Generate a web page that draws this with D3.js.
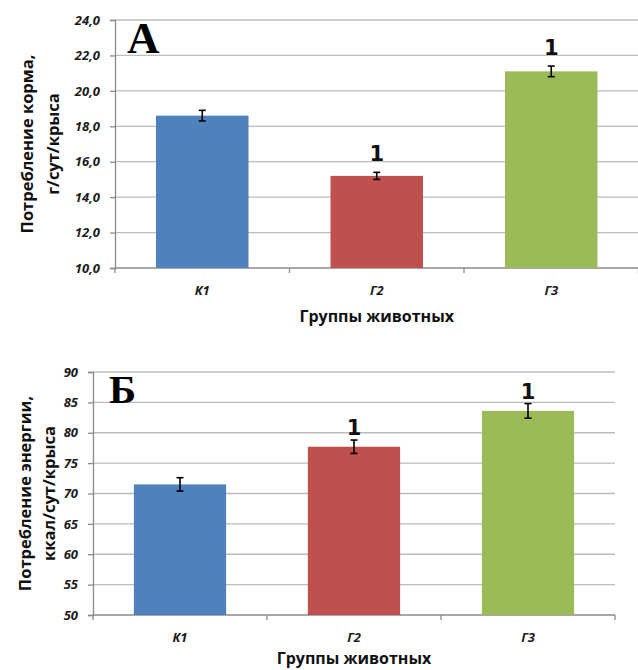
<!DOCTYPE html>
<html><head><meta charset="utf-8">
<script src="https://cdn.jsdelivr.net/npm/d3@7"></script>
<style>
html,body{margin:0;padding:0;background:#fff;}
svg{display:block;}
</style></head>
<body>
<svg id="chart" width="638" height="670"></svg>
<script>
// ---- data ----
const groups = ["К1", "Г2", "Г3"];
const barColors = ["#4f81bd", "#c0504d", "#9bbb59"];

const feedMean = [18.6, 15.2, 21.1];
const feedErr = [0.3, 0.2, 0.3];
const feedSig = ["", "1", "1"];
const feedTicks = [10, 12, 14, 16, 18, 20, 22, 24];

const energyMean = [71.5, 77.7, 83.6];
const energyErr = [1.1, 1.1, 1.2];
const energySig = ["", "1", "1"];
const energyTicks = [50, 55, 60, 65, 70, 75, 80, 85, 90];

const xTitle = "Группы животных";
const feedYTitle = ["Потребление корма,", "г/сут/крыса"];
const energyYTitle = ["Потребление энергии,", "ккал/сут/крыса"];

const svg = d3.select("#chart");
const tickFont = "'Open Sans', sans-serif";
const titleFont = "'Open Sans', sans-serif";

function drawChart(cfg) {
  const g = svg.append("g");
  const x = d3.scaleBand().domain(groups).range([cfg.left, cfg.right])
    .paddingInner(0.47).paddingOuter(0.235);
  const y = d3.scaleLinear().domain([cfg.ticks[0], cfg.ticks[cfg.ticks.length - 1]])
    .range([cfg.bottom, cfg.top]);

  // gridlines
  g.append("g").selectAll("line").data(cfg.ticks.slice(1)).join("line")
    .attr("x1", cfg.left).attr("x2", cfg.right)
    .attr("y1", d => y(d)).attr("y2", d => y(d))
    .attr("stroke", "#bdbdbd").attr("stroke-width", 1.3);

  // y axis
  const yAxis = d3.axisLeft(y).tickValues(cfg.ticks).tickSize(5).tickPadding(10)
    .tickFormat(cfg.fmt);
  const ya = g.append("g").attr("transform", `translate(${cfg.left},0)`).call(yAxis);
  ya.select(".domain").attr("stroke", "#8a8a8a").attr("stroke-width", 1.3);
  ya.selectAll(".tick line").attr("stroke", "#8a8a8a").attr("stroke-width", 1.3);
  ya.selectAll(".tick text").attr("font-family", tickFont).attr("font-weight", "bold")
    .attr("font-style", "italic").attr("font-size", 13).attr("fill", "#1a1a1a");

  // x axis
  const xa = g.append("g").attr("transform", `translate(0,${cfg.bottom})`);
  xa.append("line").attr("x1", cfg.left).attr("x2", cfg.right).attr("y1", 0).attr("y2", 0)
    .attr("stroke", "#8a8a8a").attr("stroke-width", 1.3);
  const bounds = groups.map(d => x(d) - x.step() * x.paddingInner() / 2);
  bounds.push(cfg.right);
  xa.selectAll("line.tk").data(bounds).join("line").attr("class", "tk")
    .attr("x1", d => d).attr("x2", d => d).attr("y1", 0).attr("y2", 5)
    .attr("stroke", "#8a8a8a").attr("stroke-width", 1.3);
  xa.selectAll("text").data(groups).join("text")
    .attr("x", d => x(d) + x.bandwidth() / 2).attr("y", cfg.xTickDy)
    .attr("text-anchor", "middle").attr("font-family", tickFont)
    .attr("font-weight", "bold").attr("font-style", "italic").attr("font-size", 13)
    .attr("fill", "#1a1a1a").text(d => d);

  // bars
  g.append("g").selectAll("rect").data(groups).join("rect")
    .attr("x", d => x(d)).attr("width", x.bandwidth())
    .attr("y", (d, i) => y(cfg.mean[i]))
    .attr("height", (d, i) => cfg.bottom - y(cfg.mean[i]))
    .attr("fill", (d, i) => barColors[i]);

  // error bars
  const eb = g.append("g").attr("stroke", "#000").attr("stroke-width", 1.6);
  groups.forEach((d, i) => {
    const cx = x(d) + x.bandwidth() / 2;
    const y1 = y(cfg.mean[i] + cfg.err[i]), y2 = y(cfg.mean[i] - cfg.err[i]);
    eb.append("line").attr("x1", cx).attr("x2", cx).attr("y1", y1).attr("y2", y2);
    eb.append("line").attr("x1", cx - 3.5).attr("x2", cx + 3.5).attr("y1", y1).attr("y2", y1);
    eb.append("line").attr("x1", cx - 3.5).attr("x2", cx + 3.5).attr("y1", y2).attr("y2", y2);
  });

  // significance labels
  g.append("g").selectAll("text").data(groups).join("text")
    .attr("x", d => x(d) + x.bandwidth() / 2)
    .attr("y", (d, i) => y(cfg.mean[i] + cfg.err[i]) - cfg.sigGap)
    .attr("text-anchor", "middle").attr("font-family", "'DejaVu Sans', sans-serif")
    .attr("font-weight", "bold").attr("font-size", 21).attr("fill", "#111")
    .text((d, i) => cfg.sig[i]);

  // panel letter
  g.append("text").attr("x", cfg.letterX).attr("y", cfg.letterY)
    .attr("font-family", "'Liberation Serif', 'Times New Roman', serif")
    .attr("font-weight", "bold").attr("font-size", cfg.letterSize).attr("fill", "#000")
    .text(cfg.letter);

  // x title
  g.append("text").attr("x", (cfg.left + cfg.right) / 2).attr("y", cfg.xTitleY)
    .attr("text-anchor", "middle").attr("font-family", titleFont)
    .attr("font-weight", "bold").attr("font-size", 16).attr("fill", "#111")
    .text(xTitle);

  // y title
  const cy = (cfg.top + cfg.bottom) / 2;
  cfg.yTitle.forEach((t, k) => {
    g.append("text")
      .attr("transform", `translate(${cfg.yTitleX[k]},${cy}) rotate(-90)`)
      .attr("text-anchor", "middle").attr("font-family", titleFont)
      .attr("font-weight", "bold").attr("font-size", 16.5).attr("fill", "#111")
      .text(t);
  });
}

drawChart({
  left: 115, right: 638.5, top: 20, bottom: 268,
  ticks: feedTicks, fmt: d => d3.format(".1f")(d).replace(".", ","),
  mean: feedMean, err: feedErr, sig: feedSig, sigGap: 11,
  letter: "А", letterX: 127, letterY: 53, letterSize: 45,
  xTickDy: 27, xTitleY: 322, yTitle: feedYTitle, yTitleX: [33, 59]
});

drawChart({
  left: 93, right: 615, top: 372, bottom: 615,
  ticks: energyTicks, fmt: d => String(d),
  mean: energyMean, err: energyErr, sig: energySig, sigGap: 5,
  letter: "Б", letterX: 109, letterY: 403, letterSize: 41,
  xTickDy: 27, xTitleY: 664, yTitle: energyYTitle, yTitleX: [31, 55]
});
</script>
</body></html>
